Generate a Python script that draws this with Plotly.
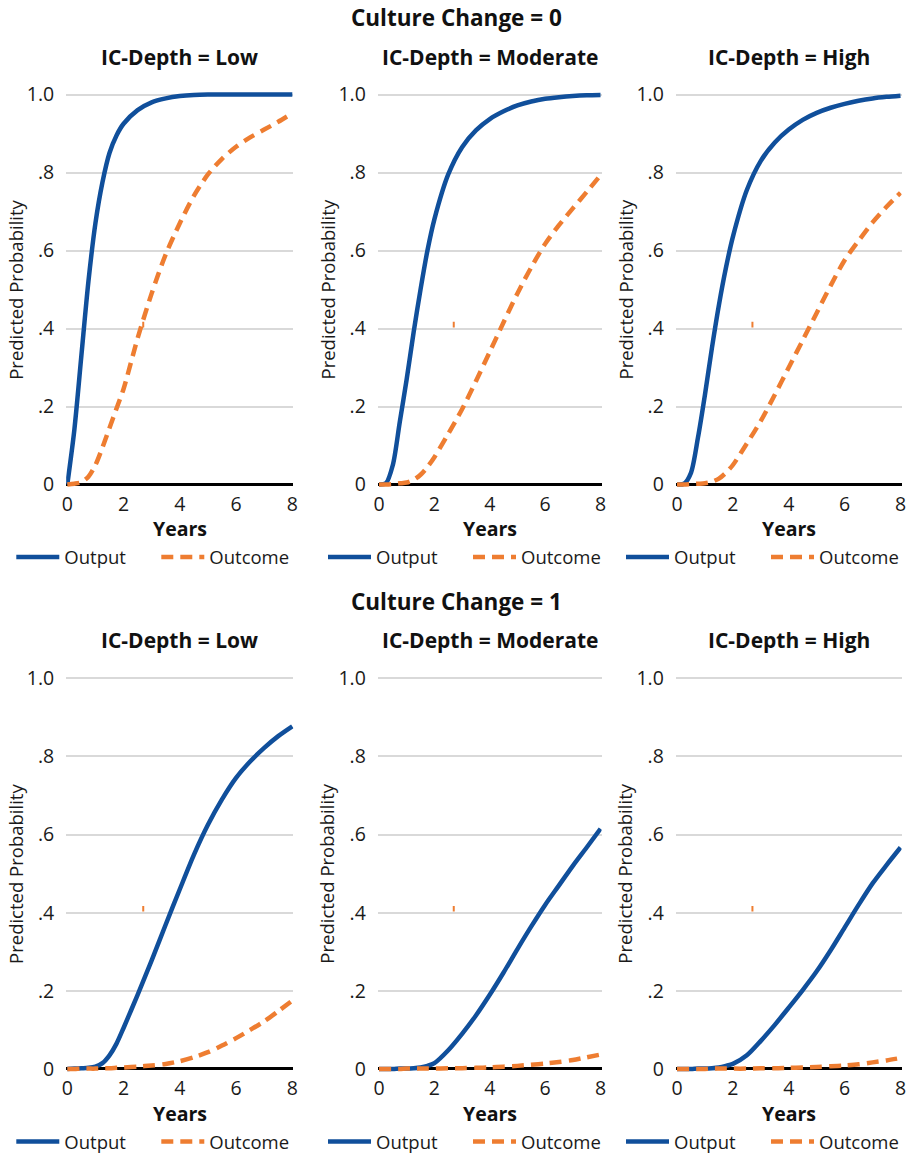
import plotly.graph_objects as go

W, H = 912, 1154
OFF = 0  # body margin removed via post_script below

# ---------------- data ----------------
years = [0, 0.25, 0.5, 0.75, 1, 1.25, 1.5, 1.75, 2, 2.5, 3, 3.5, 4, 4.5, 5, 5.5, 6, 6.5, 7, 7.5, 8]

cc0_low_output = [0, 0.14, 0.33, 0.52, 0.67, 0.775, 0.85, 0.895, 0.925, 0.96, 0.98, 0.99, 0.996, 0.999, 1.0, 1.0, 1.0, 1.0, 1.0, 1.0, 1.0]
cc0_low_outcome = [0, 0.002, 0.006, 0.02, 0.05, 0.095, 0.145, 0.195, 0.245, 0.375, 0.49, 0.59, 0.67, 0.74, 0.795, 0.835, 0.866, 0.89, 0.91, 0.93, 0.952]
cc0_mod_output = [0, 0.003, 0.05, 0.16, 0.27, 0.39, 0.5, 0.6, 0.68, 0.795, 0.865, 0.908, 0.937, 0.957, 0.972, 0.982, 0.989, 0.993, 0.996, 0.998, 0.999]
cc0_mod_outcome = [0, 0.0, 0.001, 0.003, 0.005, 0.012, 0.025, 0.045, 0.07, 0.13, 0.193, 0.265, 0.34, 0.416, 0.49, 0.557, 0.617, 0.665, 0.708, 0.75, 0.793]
cc0_high_output = [0, 0.002, 0.03, 0.12, 0.23, 0.35, 0.46, 0.555, 0.635, 0.755, 0.83, 0.877, 0.91, 0.935, 0.953, 0.966, 0.976, 0.984, 0.99, 0.994, 0.997]
cc0_high_outcome = [0, 0, 0.001, 0.002, 0.003, 0.007, 0.015, 0.03, 0.05, 0.105, 0.163, 0.23, 0.3, 0.37, 0.44, 0.51, 0.575, 0.625, 0.672, 0.712, 0.748]

cc1_low_output = [0, 0.001, 0.002, 0.003, 0.006, 0.015, 0.035, 0.065, 0.105, 0.19, 0.278, 0.37, 0.46, 0.548, 0.625, 0.69, 0.745, 0.787, 0.822, 0.852, 0.877]
cc1_low_outcome = [0, 0, 0.001, 0.001, 0.001, 0.002, 0.002, 0.003, 0.004, 0.006, 0.009, 0.013, 0.02, 0.03, 0.043, 0.06, 0.079, 0.1, 0.122, 0.148, 0.175]
cc1_mod_output = [0, 0, 0, 0.001, 0.001, 0.002, 0.004, 0.008, 0.015, 0.048, 0.09, 0.137, 0.19, 0.247, 0.307, 0.365, 0.42, 0.47, 0.52, 0.567, 0.615]
cc1_mod_outcome = [0, 0, 0, 0, 0.001, 0.001, 0.001, 0.001, 0.001, 0.002, 0.002, 0.003, 0.004, 0.006, 0.008, 0.011, 0.014, 0.018, 0.023, 0.03, 0.037]
cc1_high_output = [0, 0, 0, 0.001, 0.001, 0.002, 0.004, 0.008, 0.013, 0.035, 0.072, 0.113, 0.157, 0.202, 0.25, 0.304, 0.362, 0.42, 0.475, 0.522, 0.567]
cc1_high_outcome = [0, 0, 0, 0, 0, 0.001, 0.001, 0.001, 0.001, 0.001, 0.002, 0.002, 0.003, 0.004, 0.005, 0.007, 0.009, 0.012, 0.017, 0.022, 0.028]

# small stray orange mark present in the original panels
stray_x = [2.7]
stray_y = [0.41]

row_titles = ["Culture Change = 0", "Culture Change = 1"]
col_titles = ["IC-Depth = Low", "IC-Depth = Moderate", "IC-Depth = High"]
series_names = ["Output", "Outcome"]
y_tickvals = [0, 0.2, 0.4, 0.6, 0.8, 1.0]
y_ticktext = ["0", ".2", ".4", ".6", ".8", "1.0"]
x_tickvals = [0, 2, 4, 6, 8]

panels = [
    (cc0_low_output, cc0_low_outcome),
    (cc0_mod_output, cc0_mod_outcome),
    (cc0_high_output, cc0_high_outcome),
    (cc1_low_output, cc1_low_outcome),
    (cc1_mod_output, cc1_mod_outcome),
    (cc1_high_output, cc1_high_outcome),
]

# ---------------- style / layout ----------------
FONT = "Open Sans"
BLUE = "#104F9B"
ORANGE = "#EE7D31"
TXT = "#1a1a1a"
XR = [-0.04, 8.04]
YR = [-0.015, 1.02]

# screen pixel positions of x=0 and x=8 for each column; y=0 and y=1 for each row
col_px = [(67.3, 292.3), (379.0, 600.5), (677.0, 900.5)]
row_px = [(484.5, 94.5), (1069.0, 678.3)]


def px(xs):
    return (xs - OFF) / W


def py(ys):
    return 1 - (ys - OFF) / H


def xdom(c):
    a, b = col_px[c]
    s = (b - a) / 8.0
    return [px(a + XR[0] * s), px(a + XR[1] * s)]


def ydom(r):
    z, o = row_px[r]
    s = z - o
    return [py(z - YR[0] * s), py(z - YR[1] * s)]


fig = go.Figure()
layout = dict(
    width=W, height=H,
    margin=dict(l=0, r=0, t=0, b=0, autoexpand=False),
    paper_bgcolor="white", plot_bgcolor="white",
    font=dict(family=FONT, color=TXT),
    annotations=[],
)

for i, (outp, outc) in enumerate(panels):
    r, c = divmod(i, 3)
    n = i + 1
    xa = "x" if n == 1 else f"x{n}"
    ya = "y" if n == 1 else f"y{n}"
    lg = "legend" if n == 1 else f"legend{n}"
    fig.add_trace(go.Scatter(x=years, y=outp, name=series_names[0], mode="lines",
                             line=dict(color=BLUE, width=4.5, shape="spline", smoothing=0.8),
                             xaxis=xa, yaxis=ya, legend=lg))
    fig.add_trace(go.Scatter(x=years, y=outc, name=series_names[1], mode="lines",
                             line=dict(color=ORANGE, width=4.5, dash="12px,7px", shape="spline", smoothing=0.8),
                             xaxis=xa, yaxis=ya, legend=lg))
    fig.add_trace(go.Scatter(x=stray_x, y=stray_y, mode="markers", showlegend=False, hoverinfo="skip",
                             marker=dict(symbol="line-ns", size=4, line=dict(color=ORANGE, width=2)),
                             xaxis=xa, yaxis=ya))

    xkey = "xaxis" if n == 1 else f"xaxis{n}"
    ykey = "yaxis" if n == 1 else f"yaxis{n}"
    layout[xkey] = dict(domain=xdom(c), range=XR, anchor=ya, tickvals=x_tickvals,
                        showgrid=False, zeroline=False, showline=False, ticks="",
                        ticklabelstandoff=0,
                        tickfont=dict(size=19.5, family=FONT, color=TXT), fixedrange=True)
    layout[ykey] = dict(domain=ydom(r), range=YR, anchor=xa, tickvals=y_tickvals, ticktext=y_ticktext,
                        showgrid=True, gridcolor="#d9d9d9", gridwidth=2,
                        zeroline=True, zerolinecolor="#000000", zerolinewidth=2.5,
                        showline=False, ticks="", ticklabelstandoff=11,
                        tickfont=dict(size=19.5, family=FONT, color=TXT), fixedrange=True)

    z, o = row_px[r]
    a, b = col_px[c]
    cx = (a + b) / 2
    # legend
    leg_y = z + 73
    layout[lg] = dict(orientation="h", x=px(a - 56), y=py(leg_y), xanchor="left", yanchor="middle",
                      font=dict(size=18.5, family=FONT, color=TXT), bgcolor="rgba(0,0,0,0)",
                      entrywidth=87, entrywidthmode="pixels", itemwidth=43, traceorder="normal")
    # panel title
    layout["annotations"].append(dict(text=f"<b>{col_titles[c]}</b>", x=px(cx), y=py(o - 38),
                                      xref="paper", yref="paper", showarrow=False,
                                      xanchor="center", yanchor="middle",
                                      font=dict(size=21, family=FONT, color="#111111")))
    # x title
    layout["annotations"].append(dict(text="<b>Years</b>", x=px(cx), y=py(z + 44),
                                      xref="paper", yref="paper", showarrow=False,
                                      xanchor="center", yanchor="middle", borderpad=0,
                                      font=dict(size=19.5, family=FONT, color="#111111")))
    # y title
    layout["annotations"].append(dict(text="Predicted Probability", x=px(a - 52), y=py((z + o) / 2),
                                      xref="paper", yref="paper", showarrow=False, textangle=-90,
                                      xanchor="center", yanchor="middle", borderpad=0,
                                      font=dict(size=18.5, family=FONT, color=TXT)))

for r in range(2):
    z, o = row_px[r]
    layout["annotations"].append(dict(text=f"<b>{row_titles[r]}</b>", x=px(456), y=py(o - 77),
                                      xref="paper", yref="paper", showarrow=False,
                                      xanchor="center", yanchor="middle", borderpad=0,
                                      font=dict(size=22.5, family=FONT, color="#111111")))

fig.update_layout(**layout)
fig.write_html("out.html", config={"displayModeBar": False},
               post_script="document.body.style.margin='0';")
